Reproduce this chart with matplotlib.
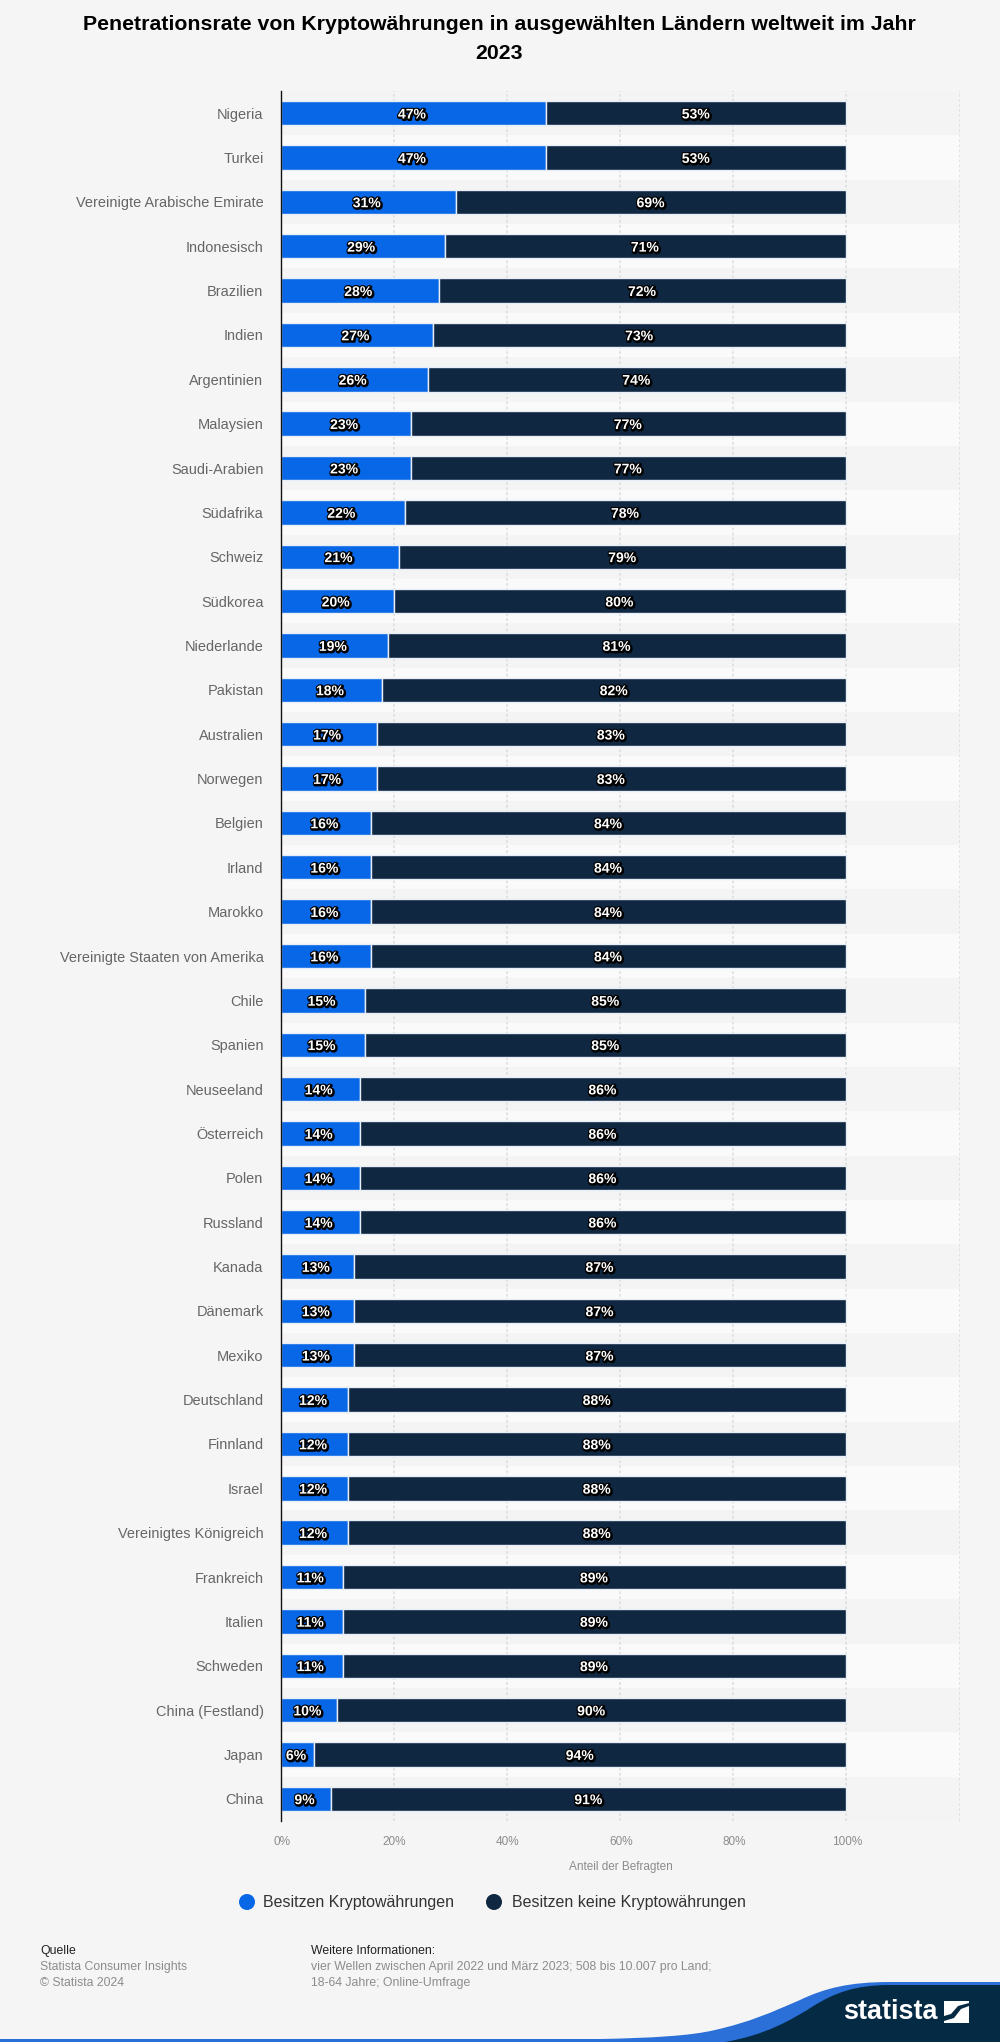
import matplotlib
matplotlib.use('Agg')
import matplotlib.pyplot as plt
import matplotlib.patheffects as pe
from matplotlib.patches import Ellipse, PathPatch, Polygon
from matplotlib.path import Path
from matplotlib.transforms import ScaledTranslation

plt.rcParams['font.family'] = ['Liberation Sans', 'DejaVu Sans']

countries = ['Nigeria', 'Turkei', 'Vereinigte Arabische Emirate', 'Indonesisch', 'Brazilien',
             'Indien', 'Argentinien', 'Malaysien', 'Saudi-Arabien', 'Südafrika', 'Schweiz',
             'Südkorea', 'Niederlande', 'Pakistan', 'Australien', 'Norwegen', 'Belgien', 'Irland',
             'Marokko', 'Vereinigte Staaten von Amerika', 'Chile', 'Spanien', 'Neuseeland',
             'Österreich', 'Polen', 'Russland', 'Kanada', 'Dänemark', 'Mexiko', 'Deutschland',
             'Finnland', 'Israel', 'Vereinigtes Königreich', 'Frankreich', 'Italien', 'Schweden',
             'China (Festland)', 'Japan', 'China']
besitzen = [47, 47, 31, 29, 28, 27, 26, 23, 23, 22, 21, 20, 19, 18, 17, 17, 16, 16, 16, 16,
            15, 15, 14, 14, 14, 14, 13, 13, 13, 12, 12, 12, 12, 11, 11, 11, 10, 6, 9]
keine = [53, 53, 69, 71, 72, 73, 74, 77, 77, 78, 79, 80, 81, 82, 83, 83, 84, 84, 84, 84,
         85, 85, 86, 86, 86, 86, 87, 87, 87, 88, 88, 88, 88, 89, 89, 89, 90, 94, 91]
xticks = [0, 20, 40, 60, 80, 100]

BG = '#f5f5f5'
BLUE = '#0767e6'
NAVY = '#0f2741'
W, H = 1000, 2042


def px(size):
    # pixel size to points at dpi 100
    return size * 0.72


fig = plt.figure(figsize=(W / 100, H / 100), dpi=100, facecolor=BG)

# overlay in pixel coords for footer and logo
bg = fig.add_axes([0, 0, 1, 1])
bg.set_xlim(0, W)
bg.set_ylim(H, 0)
bg.axis('off')

ax = fig.add_axes([280.5 / W, 1 - 1821 / H, 679 / W, 1730 / H], facecolor='none')
y = list(range(len(countries)))
ax.set_xlim(0, 120)
ax.set_ylim(len(countries) - 0.5, -0.5)

# alternating row bands
for i in y:
    ax.axhspan(i - 0.5, i + 0.5, color='#f4f4f4' if i % 2 == 0 else '#fafafa', lw=0, zorder=0)

for v in xticks[1:] + [120]:
    ax.axvline(v, color='#dcdcdc', lw=1.1, ls=(0, (1.8, 1.5)), zorder=1)

ax.barh(y, besitzen, height=0.55, color=BLUE, edgecolor='#e8eef6', lw=1, zorder=2)
ax.barh(y, keine, left=besitzen, height=0.55, color=NAVY, edgecolor='#e8eef6', lw=1, zorder=2)

# white label with a dark outline that falls slightly to the lower right
outline = [pe.Stroke(linewidth=2.4, foreground='black', offset=(0.6, -0.6)),
           pe.Stroke(linewidth=1.6, foreground='black'),
           pe.Normal()]
for i in y:
    ax.text(besitzen[i] / 2 - 0.25, i + 0.03, f'{besitzen[i]}%', ha='center', va='center', color='white',
            fontsize=px(14), fontweight='bold', path_effects=outline, zorder=4)
    ax.text(besitzen[i] + keine[i] / 2 - 0.1, i + 0.03, f'{keine[i]}%', ha='center', va='center', color='white',
            fontsize=px(14), fontweight='bold', path_effects=outline, zorder=4)

for side in ['top', 'right', 'bottom']:
    ax.spines[side].set_visible(False)
ax.spines['left'].set_color('#111111')
ax.spines['left'].set_linewidth(1)
ax.spines['left'].set_zorder(5)

ax.set_yticks(y)
ax.set_yticklabels(countries, fontsize=px(14.5), color='#666666')
ax.tick_params(axis='y', length=0, pad=12.2)
ax.set_xticks(xticks)
ax.set_xticklabels([f'{v}%' for v in xticks], fontsize=px(11.7), color='#8c8c8c')
ax.tick_params(axis='x', length=0, pad=10.7)
shift = ScaledTranslation(1 / 100, 0, fig.dpi_scale_trans)
for lbl in ax.get_xticklabels():
    lbl.set_transform(lbl.get_transform() + shift)
ax.set_xlabel('Anteil der Befragten', fontsize=px(11.7), color='#8c8c8c')
ax.xaxis.set_label_coords((620.5 - 280.5) / 679, -40 / 1730)

bg.text(499.5, 39, 'Penetrationsrate von Kryptowährungen in ausgewählten Ländern weltweit im Jahr\n2023',
        ha='center', va='center', fontsize=px(21.3), fontweight='bold', color='black', linespacing=1.72)

# legend
for cx, col, tx, label in [(247, BLUE, 263, 'Besitzen Kryptowährungen'),
                           (494, NAVY, 511.5, 'Besitzen keine Kryptowährungen')]:
    bg.add_patch(Ellipse((cx, 1902), 16, 16, color=col, lw=0))
    bg.text(tx, 1902, label, ha='left', va='center', fontsize=px(16), color='#333333')

# footer
bg.text(40, 1951, 'Quelle', va='center', fontsize=px(12.2), color='#222222')
bg.text(40, 1967, 'Statista Consumer Insights', va='center', fontsize=px(12.2), color='#8c8c8c')
bg.text(40, 1983, '© Statista 2024', va='center', fontsize=px(12.2), color='#8c8c8c')
bg.text(311, 1951, 'Weitere Informationen:', va='center', fontsize=px(12.2), color='#222222')
bg.text(311, 1967, 'vier Wellen zwischen April 2022 und März 2023; 508 bis 10.007 pro Land;',
        va='center', fontsize=px(12.2), color='#8c8c8c')
bg.text(311, 1983, '18-64 Jahre; Online-Umfrage', va='center', fontsize=px(12.2), color='#8c8c8c')

# swoosh
C = Path.CURVE4
L = Path.LINETO
M = Path.MOVETO
blue_path = Path([(1000, 1982), (890, 1982), (850, 1982), (825, 1988), (800, 2000),
                  (770, 2013), (750, 2022), (715, 2030), (690, 2036), (650, 2038), (600, 2039),
                  (0, 2039), (0, 2042), (1000, 2042), (1000, 1982)],
                 [M, L, C, C, C, C, C, C, C, C, C, L, L, L, L])
bg.add_patch(PathPatch(blue_path, fc='#2a70d8', lw=0, zorder=5))
dark_path = Path([(1000, 1985), (890, 1985), (855, 1985), (835, 1993), (815, 2005),
                  (790, 2021), (765, 2035), (725, 2042), (1000, 2042), (1000, 1985)],
                 [M, L, C, C, C, C, C, C, L, L])
bg.add_patch(PathPatch(dark_path, fc='#042a44', lw=0, zorder=6))

# logo
bg.text(843, 2012, 'statista', ha='left', va='center', fontsize=px(27), fontweight='bold', color='white', zorder=7)
bg.add_patch(Polygon([(944, 2001), (969, 2001), (969, 2003), (958, 2006), (951, 2014), (944, 2016)],
                     fc='white', lw=0, zorder=7))
bg.add_patch(Polygon([(969, 2006), (969, 2023), (944, 2023), (944, 2021), (954, 2018), (961, 2009)],
                     fc='white', lw=0, zorder=7))

fig.savefig('out.png', dpi=100, facecolor=BG)
